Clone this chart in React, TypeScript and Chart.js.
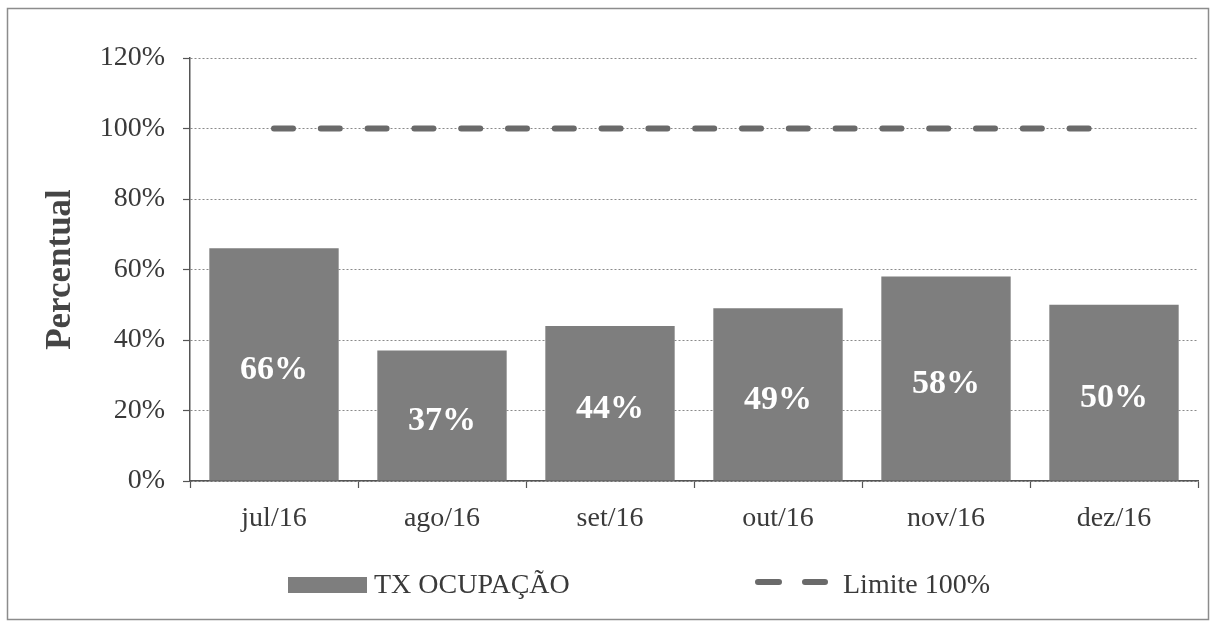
import React, { useEffect, useRef } from "react";
import { Chart, registerables } from "chart.js";

Chart.register(...registerables);

const categories = ["jul/16", "ago/16", "set/16", "out/16", "nov/16", "dez/16"];
const occupancy = [66, 37, 44, 49, 58, 50];
const limit = [100, 100, 100, 100, 100, 100];
const yTicks = [0, 20, 40, 60, 80, 100, 120];
const barLabel = "TX OCUPAÇÃO";
const lineLabel = "Limite 100%";
const yTitle = "Percentual";

const SERIF = "'Liberation Serif', 'Times New Roman', serif";
const TEXT = "#3a3a3a";
const BAR = "#7e7e7e";
const LINE = "#6a6a6a";
const AXIS = "#555555";

const framePlugin = {
  id: "frameAndLegend",
  afterDraw(chart: any) {
    const ctx = chart.ctx;
    ctx.save();
    // outer frame
    ctx.strokeStyle = "#8c8c8c";
    ctx.lineWidth = 1.5;
    ctx.setLineDash([]);
    ctx.strokeRect(7.5, 8.5, 1201, 611);

    // legend
    const ly = 585;
    ctx.fillStyle = BAR;
    ctx.fillRect(288, 577, 79, 16);
    ctx.font = `28px ${SERIF}`;
    ctx.fillStyle = TEXT;
    ctx.textBaseline = "middle";
    ctx.textAlign = "left";
    ctx.fillText(chart.data.datasets[0].label, 374, ly + 1);

    ctx.strokeStyle = LINE;
    ctx.lineWidth = 6;
    ctx.lineCap = "round";
    ctx.beginPath();
    ctx.moveTo(758, 582);
    ctx.lineTo(779, 582);
    ctx.moveTo(805, 582);
    ctx.lineTo(825, 582);
    ctx.stroke();
    ctx.fillText(chart.data.datasets[1].label, 843, ly + 1);
    ctx.restore();
  },
};

const valueLabelPlugin = {
  id: "valueLabels",
  afterDatasetsDraw(chart: any) {
    const ctx = chart.ctx;
    const meta = chart.getDatasetMeta(0);
    const data = chart.data.datasets[0].data;
    ctx.save();
    ctx.font = `bold 34px ${SERIF}`;
    ctx.fillStyle = "#ffffff";
    ctx.textAlign = "center";
    ctx.textBaseline = "middle";
    meta.data.forEach((el: any, i: number) => {
      const y = (el.y + el.base) / 2 + 6;
      ctx.fillText(`${data[i]}%`, el.x, y);
    });
    ctx.restore();
  },
};

export default function App() {
  const ref = useRef<HTMLCanvasElement | null>(null);

  useEffect(() => {
    if (!ref.current) return;
    const chart = new Chart(ref.current, {
      data: {
        labels: categories,
        datasets: [
          {
            type: "bar",
            label: barLabel,
            data: occupancy,
            backgroundColor: BAR,
            categoryPercentage: 1,
            barPercentage: 0.77,
            order: 2,
          },
          {
            type: "line",
            label: lineLabel,
            data: limit,
            borderColor: LINE,
            borderWidth: 6,
            borderDash: [19, 27.8],
            borderCapStyle: "round",
            pointRadius: 0,
            fill: false,
            order: 1,
          },
        ],
      } as any,
      options: {
        animation: false,
        responsive: false,
        maintainAspectRatio: false,
        layout: { padding: { top: 58, left: 0, right: 15, bottom: 80 } },
        plugins: {
          legend: { display: false },
          tooltip: { enabled: false },
        },
        scales: {
          x: {
            afterFit(scale: any) {
              scale.height = 62;
            },
            grid: {
              offset: true,
              drawOnChartArea: false,
              drawTicks: true,
              tickLength: 7,
              tickColor: AXIS,
              tickWidth: 1.2,
            },
            border: { display: true, color: AXIS, width: 1.5 },
            ticks: {
              color: TEXT,
              font: { family: SERIF, size: 28 },
              padding: 14,
              maxRotation: 0,
            },
          },
          y: {
            min: 0,
            max: 120,
            afterFit(scale: any) {
              scale.width = 190;
            },
            afterBuildTicks(scale: any) {
              scale.ticks = yTicks.map((v) => ({ value: v }));
            },
            grid: {
              color: "#8a8a8a",
              lineWidth: 1,
              drawTicks: true,
              tickLength: 7,
              tickColor: AXIS,
              tickWidth: 1.2,
              tickBorderDash: [],
            },
            border: { display: true, color: AXIS, width: 1.5, dash: [2, 2] },
            ticks: {
              color: TEXT,
              font: { family: SERIF, size: 28 },
              padding: 18,
              callback: (v: any) => `${v}%`,
            },
            title: {
              display: true,
              text: yTitle,
              color: "#454545",
              font: { family: SERIF, size: 35, weight: "bold" },
              padding: { top: 40, bottom: 0 },
            },
          },
        },
      } as any,
      plugins: [valueLabelPlugin, framePlugin],
    });
    return () => chart.destroy();
  }, []);

  return (
    <div style={{ position: "fixed", left: 0, top: 0, width: 1213, height: 623, background: "#ffffff" }}>
      <canvas ref={ref} width={1213} height={623} style={{ display: "block" }} />
    </div>
  );
}
